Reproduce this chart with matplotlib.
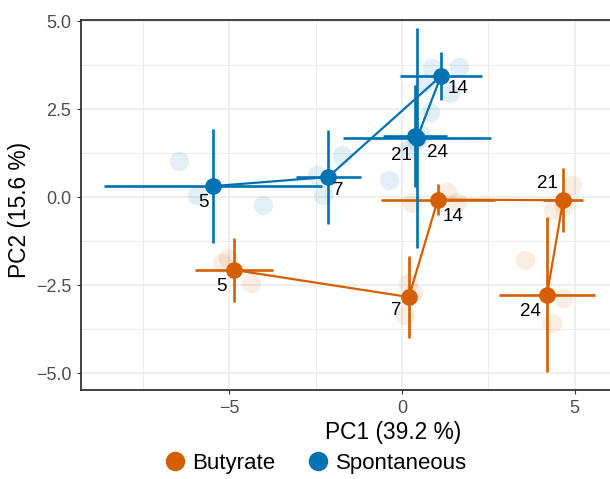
"""
PCA plot: replicate scores (faint), group means with SD crosshairs, time-ordered paths.
"""
import matplotlib
matplotlib.use("Agg")
import matplotlib.pyplot as plt
from matplotlib.lines import Line2D

plt.rcParams['font.family'] = ['Liberation Sans', 'DejaVu Sans']

# --- data ---------------------------------------------------------------
groups = ['Butyrate', 'Spontaneous']
colors = {'Butyrate': '#D55E00', 'Spontaneous': '#0072B2'}
days = [5, 7, 14, 21, 24]

# group means (PC1, PC2) per day
but_pc1 = [-4.87, 0.20, 1.04, 4.67, 4.20]
but_pc2 = [-2.07, -2.84, -0.07, -0.09, -2.78]
but_sd1 = [1.13, 0.15, 1.65, 0.58, 1.39]
but_sd2 = [0.91, 1.16, 0.43, 0.91, 2.20]

spo_pc1 = [-5.48, -2.14, 1.13, 0.44, 0.37]
spo_pc2 = [0.31, 0.57, 3.44, 1.68, 1.73]
spo_sd1 = [3.15, 0.94, 1.18, 2.15, 0.93]
spo_sd2 = [1.62, 1.33, 0.68, 3.12, 1.45]

# individual replicate scores
but_rep1 = [-5.22, -5.04, -4.38, 0.17, 0.09, 0.33, 0.29, 1.30, 1.59,
            4.93, 4.38, 4.70, 3.57, 4.67, 4.35]
but_rep2 = [-1.88, -1.73, -2.44, -2.44, -3.35, -2.72, -0.17, 0.14, -0.14,
            0.34, -0.37, -0.24, -1.79, -2.87, -3.58]
spo_rep1 = [-6.46, -5.94, -4.03, -1.74, -2.46, -2.29, 0.87, 1.65, 1.39,
            0.64, 0.81, 0.14, -0.38, 0.40, 0.55]
spo_rep2 = [1.02, 0.06, -0.23, 1.19, 0.63, 0.06, 3.66, 3.69, 2.95,
            3.24, 2.41, 1.34, 0.48, 1.60, 1.75]

data = {
    'Butyrate': (but_pc1, but_pc2, but_sd1, but_sd2, but_rep1, but_rep2),
    'Spontaneous': (spo_pc1, spo_pc2, spo_sd1, spo_sd2, spo_rep1, spo_rep2),
}

# label offsets in points (repel-like placement)
label_offsets = {
    'Butyrate': [(-8.6, -12), (-9.4, -9.5), (11, -12), (-11, 12), (-12, -12)],
    'Spontaneous': [(-7, -12), (7.5, -9.5), (12.5, -8.7), (-11, -13), (16, -11.5)],
}

# --- plot ---------------------------------------------------------------
fig = plt.figure(figsize=(6.10, 4.79), dpi=100)
ax = fig.add_axes([81 / 610, 1 - 390 / 479, (705 - 81) / 610, (390 - 20) / 479])

for g in groups:
    pc1, pc2, sd1, sd2, r1, r2 = data[g]
    c = colors[g]
    ax.plot(r1, r2, 'o', ms=14, color=c, alpha=0.11, mec='none', zorder=2)
    ax.errorbar(pc1, pc2, xerr=sd1, yerr=sd2, fmt='none', ecolor=c,
                elinewidth=1.9, capsize=0, zorder=3)
    ax.plot(pc1, pc2, '-', color=c, lw=1.6, zorder=3)
    ax.plot(pc1, pc2, 'o', ms=12, color=c, mec='none', zorder=4)
    for x, y, d, off in zip(pc1, pc2, days, label_offsets[g]):
        ax.annotate(str(d), (x, y), xytext=off, textcoords='offset points',
                    ha='center', va='center', fontsize=13.5, color='black', zorder=5)

ax.set_xlim(-9.3, 8.78)
ax.set_ylim(-5.48, 5.03)
ax.set_xticks([-5, 0, 5])
ax.set_xticklabels(['\u22125', '0', '5'])
ax.set_xticks([-7.5, -2.5, 2.5, 7.5], minor=True)
ax.set_yticks([-5, -2.5, 0, 2.5, 5])
ax.set_yticklabels(['\u22125.0', '\u22122.5', '0.0', '2.5', '5.0'])
ax.set_yticks([-3.75, -1.25, 1.25, 3.75], minor=True)

ax.grid(True, which='major', color='#EBEBEB', lw=1.2, zorder=0)
ax.grid(True, which='minor', color='#EBEBEB', lw=0.7, zorder=0)
ax.set_axisbelow(True)

ax.tick_params(which='major', length=3, width=0.8, color='#333333',
               labelsize=13, labelcolor='#4D4D4D', pad=4)
ax.tick_params(which='minor', length=0)
for side in ['left', 'bottom', 'top']:
    ax.spines[side].set_color('#333333')
    ax.spines[side].set_linewidth(1.3)
ax.spines['right'].set_visible(False)

fig.text(393 / 610, 1 - 433 / 479, 'PC1 (39.2 %)', ha='center', va='center', fontsize=16.4)
fig.text(20 / 610, 1 - 210 / 479, 'PC2 (15.6 %)', ha='center', va='center',
         rotation=90, fontsize=16.4)

handles = [Line2D([], [], marker='o', ls='none', ms=14, color=colors[g], mec='none')
           for g in groups]
fig.legend(handles, groups, loc='center', bbox_to_anchor=(313 / 610, 1 - 463 / 479),
           ncol=2, frameon=False, fontsize=16, handletextpad=0.1, columnspacing=1.2,
           handlelength=1.4)

fig.savefig('out.png', dpi=100)
plt.close(fig)
